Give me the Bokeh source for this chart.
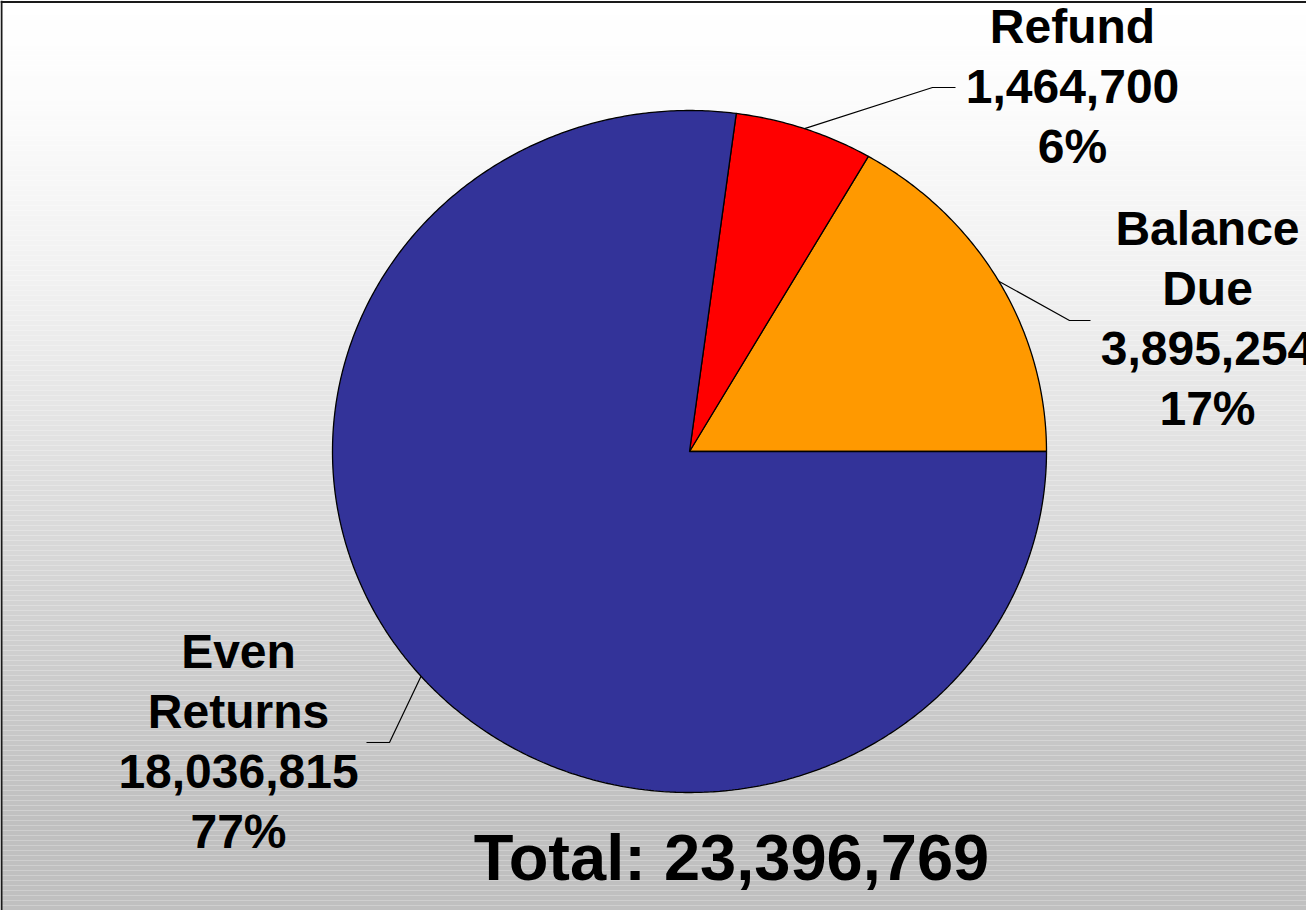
import numpy as np
from bokeh.plotting import figure
from bokeh.models import Range1d, ColumnDataSource, Span
from bokeh.core.properties import value
from bokeh.embed import file_html
from bokeh.resources import INLINE

# ---- data ----
categories = ["Balance Due", "Refund", "Even Returns"]
counts = [3895254, 1464700, 18036815]
colors = ["#ff9900", "#ff0000", "#333399"]

total = sum(counts)

# ---- layout (pixels in plot space, y downward) ----
W, H = 1306, 910
CX, CY, RX, RY = 689, 451, 357, 341
label_pos = [(1207, 318), (1072, 86), (238, 741)]
elbows = [(1069, 320), (932, 87), (389, 742)]
ends = [(1090, 320), (955, 87), (366, 742)]

p = figure(width=W, height=H, output_backend="svg", toolbar_location=None,
           x_range=Range1d(0, W), y_range=Range1d(H, 0), min_border=0,
           outline_line_color=None, border_fill_color="white")
p.axis.visible = False
p.grid.visible = False

# gradient background (white at top to silver grey at bottom)
n = 182
edges = np.linspace(0, H, n + 1)
mid = (edges[:-1] + edges[1:]) / 2
shades = np.interp(mid, [0, 92, 292, 492, 692, 822, 910],
                   [255, 252, 240, 221, 203, 192, 192]).round().astype(int)
bg_cols = ["#%02x%02x%02x" % (s, s, s) for s in shades]
p.quad(left=0, right=W, top=edges[:-1], bottom=edges[1:], fill_color=bg_cols,
       line_color=None)

# pie slices (elliptical) counter-clockwise from 3 o'clock
fracs = np.array(counts) / total
starts = np.concatenate([[0], np.cumsum(fracs)[:-1]]) * 2 * np.pi
stops = np.cumsum(fracs) * 2 * np.pi
xs, ys = [], []
for a0, a1 in zip(starts, stops):
    t = np.linspace(a0, a1, max(3, int((a1 - a0) / (2 * np.pi) * 720)))
    xs.append(np.concatenate([[CX], CX + RX * np.cos(t)]).tolist())
    ys.append(np.concatenate([[CY], CY - RY * np.sin(t)]).tolist())
p.patches(xs, ys, fill_color=colors, line_color="black", line_width=1.3)

# leader lines
mids = (starts + stops) / 2
lx, ly = [], []
for m, e, f in zip(mids, elbows, ends):
    lx.append([CX + RX * np.cos(m), e[0], f[0]])
    ly.append([CY - RY * np.sin(m), e[1], f[1]])
p.multi_line(lx, ly, line_color="black", line_width=1.2)

# labels
labels = [f"{c.replace(' ', chr(10))}\n{v:,}\n{fr * 100:.0f}%"
          for c, v, fr in zip(categories, counts, fracs)]
src = ColumnDataSource(dict(x=[q[0] for q in label_pos], y=[q[1] for q in label_pos],
                            text=labels))
p.text(x="x", y="y", text="text", source=src, text_align="center",
       text_baseline="middle", text_font=value("Liberation Sans"),
       text_font_style="bold", text_font_size="48px", text_line_height=1.135,
       text_color="black")

p.text(x=[731], y=[857], text=[f"Total: {total:,}"], text_align="center",
       text_baseline="middle", text_font=value("Liberation Sans"),
       text_font_style="bold", text_font_size="65px", text_color="black")

# border (left and top; right/bottom lie beyond the window in the reference)
p.add_layout(Span(location=1, dimension="height", line_color="#1a1a1a", line_width=2))
p.add_layout(Span(location=1.5, dimension="width", line_color="#1a1a1a", line_width=2))

open("out.html", "w").write(file_html(p, INLINE))
